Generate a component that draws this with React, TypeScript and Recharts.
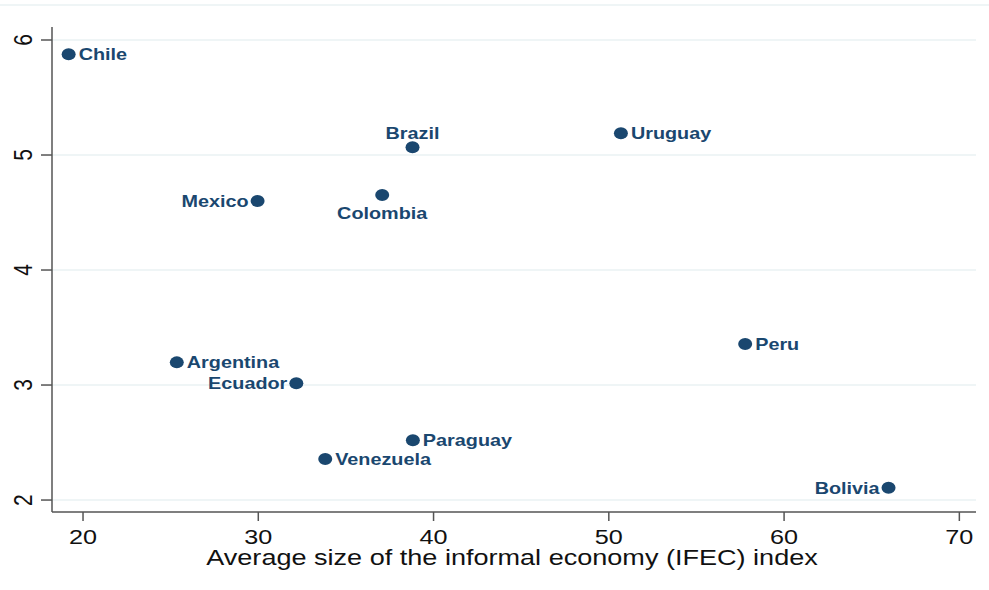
import { ScatterChart, Scatter, XAxis, YAxis, CartesianGrid } from "recharts";

const countries = ["Chile", "Brazil", "Uruguay", "Mexico", "Colombia", "Argentina", "Ecuador", "Peru", "Paraguay", "Venezuela", "Bolivia"];
const ifec = [19.18, 38.8, 50.69, 29.96, 37.07, 25.35, 32.17, 57.78, 38.82, 33.82, 65.96];
const yvals = [5.876, 5.067, 5.189, 4.6, 4.652, 3.197, 3.015, 3.357, 2.52, 2.357, 2.107];
const labelPos = ["right", "top", "right", "left", "bottom", "right", "left", "right", "right", "right", "left"];
const xTicks = [20, 30, 40, 50, 60, 70];
const yTicks = [2, 3, 4, 5, 6];

const NAVY = "#1a476f";
const AXIS_COL = "#555";
const GRID = "#eaf2f3";
const FONT = "'Liberation Sans', Arial, sans-serif";
const SX = 1.2;

const data = countries.map((name, i) => ({ name, x: ifec[i], y: yvals[i], pos: labelPos[i] }));

const Dot = (p: any) => {
  const { cx, cy, payload } = p;
  let tx = cx + 10, ty = cy + 6, anchor = "start";
  if (payload.pos === "left") { tx = cx - 9; anchor = "end"; }
  if (payload.pos === "top") { tx = cx; ty = cy - 8; anchor = "middle"; }
  if (payload.pos === "bottom") { tx = cx; ty = cy + 24; anchor = "middle"; }
  return (
    <g>
      <ellipse cx={cx} cy={cy} rx={7} ry={6} fill={NAVY} />
      <g transform={`translate(${tx},${ty}) scale(${SX},1)`}>
        <text x={0} y={0} textAnchor={anchor} fontFamily={FONT} fontWeight="bold" fontSize={16.5} fill={NAVY}>{payload.name}</text>
      </g>
    </g>
  );
};

const XTick = (p: any) => (
  <g transform={`translate(${p.x},${p.y}) scale(${SX},1)`}>
    <text x={0} y={0} dy={23} textAnchor="middle" fontFamily={FONT} fontSize={21} fill="#111">{p.payload.value}</text>
  </g>
);

const YTick = (p: any) => (
  <g transform={`translate(${p.x},${p.y}) scale(${SX},1) rotate(-90)`}>
    <text x={0} y={0} textAnchor="middle" fontFamily={FONT} fontSize={21} fill="#111">{p.payload.value}</text>
  </g>
);

const XTitle = (p: any) => {
  const vb = p.viewBox;
  const cx = vb.x + vb.width / 2 - 2;
  return (
    <g transform={`translate(${cx},565) scale(1.23,1)`}>
      <text x={0} y={0} textAnchor="middle" fontFamily={FONT} fontSize={22} fill="#111">Average size of the informal economy (IFEC) index</text>
    </g>
  );
};

export default function App() {
  return (
    <div style={{ position: "absolute", left: 0, top: 0, width: 989, height: 590, background: "#fff" }}>
      <svg width={989} height={590} style={{ position: "absolute", left: 0, top: 0 }}>
        <line x1={0} x2={989} y1={5} y2={5} stroke={GRID} strokeWidth={1.5} />
      </svg>
      <ScatterChart width={989} height={590} margin={{ top: 27, right: 13, bottom: 28, left: 12 }} style={{ position: "absolute", left: 0, top: 0 }}>
        <CartesianGrid horizontal vertical={false} stroke={GRID} strokeWidth={1.5} horizontalValues={yTicks} />
        <XAxis type="number" dataKey="x" domain={[18.23, 70.95]} allowDataOverflow ticks={xTicks} interval={0}
          height={50} stroke={AXIS_COL} strokeWidth={1.5} tickSize={9} tickMargin={0} tick={<XTick />} label={<XTitle />} />
        <YAxis type="number" dataKey="y" domain={[1.896, 6.113]} allowDataOverflow ticks={yTicks} interval={0}
          width={40} stroke={AXIS_COL} strokeWidth={1.5} tickSize={11} tickMargin={9} tick={<YTick />} />
        <Scatter data={data} shape={<Dot />} isAnimationActive={false} />
      </ScatterChart>
    </div>
  );
}
